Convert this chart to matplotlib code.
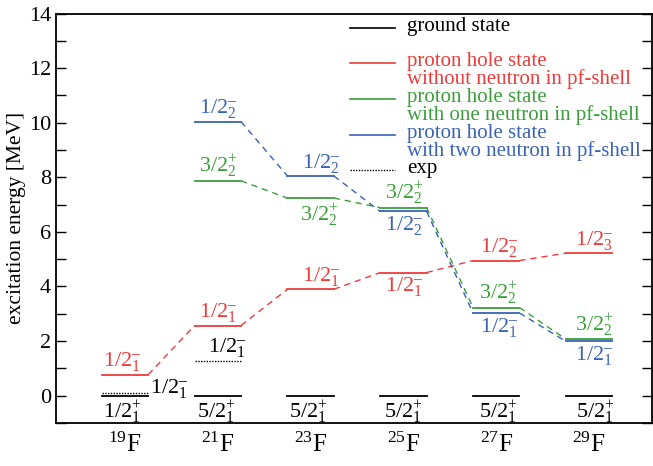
import numpy as np
import matplotlib
matplotlib.use("Agg")
import matplotlib.pyplot as plt
from matplotlib.ticker import MultipleLocator

plt.rcParams['font.family'] = ['Liberation Serif', 'DejaVu Serif']
plt.rcParams['mathtext.fontset'] = 'custom'
plt.rcParams['mathtext.rm'] = 'Liberation Serif'
plt.rcParams['mathtext.it'] = 'Liberation Serif:italic'
plt.rcParams['mathtext.bf'] = 'Liberation Serif:bold'
plt.rcParams['mathtext.default'] = 'regular'

# ---------------- data ----------------
mass_numbers = [19, 21, 23, 25, 27, 29]
nuclei = [r'$^{%d}$F' % a for a in mass_numbers]

ground_E = [0, 0, 0, 0, 0, 0]
ground_labels = ['1/2+1', '5/2+1', '5/2+1', '5/2+1', '5/2+1', '5/2+1']

red_E = [0.77, 2.57, 3.90, 4.51, 4.95, 5.22]
red_labels = ['1/2-1', '1/2-1', '1/2-1', '1/2-1', '1/2-2', '1/2-3']

green_E = [np.nan, 7.87, 7.24, 6.89, 3.23, 2.07]
green_labels = [None, '3/2+2', '3/2+2', '3/2+2', '3/2+2', '3/2+2']

blue_E = [np.nan, 10.04, 8.05, 6.75, 3.03, 1.99]
blue_labels = [None, '1/2-2', '1/2-2', '1/2-2', '1/2-1', '1/2-1']

exp_E = [0.11, 1.28, np.nan, np.nan, np.nan, np.nan]
exp_labels = ['1/2-1', '1/2-1', None, None, None, None]

legend_texts = ['ground state',
                'proton hole state\nwithout neutron in pf-shell',
                'proton hole state\nwith one neutron in pf-shell',
                'proton hole state\nwith two neutron in pf-shell',
                'exp']

# ---------------- styles / placement ----------------
RED = '#ee3b3b'
GREEN = '#3c9e3c'
BLUE = '#3a62b6'
HW = 0.25  # half width of a level
FS = 16
LFS = 15

# (side, x offset from level start) per label
ground_place = [('below', 0.01), ('below', 0.03), ('below', 0.02), ('below', 0.04), ('below', 0.06), ('below', 0.11)]
red_place = [('above', 0.01), ('above', 0.05), ('above', 0.16), ('below', 0.05), ('above', 0.08), ('above', 0.10)]
green_place = [None, ('above', 0.05), ('below', 0.14), ('above', 0.05), ('above', 0.06), ('above', 0.10)]
blue_place = [None, ('above', 0.05), ('above', 0.16), ('below', 0.05), ('below', 0.08), ('below', 0.10)]
exp_place = [('right', 0.0), ('above', 0.14)]

HYPH = '\\mathbf{\u2013}'


def fmt(lbl):
    spin, par, idx = lbl[:3], lbl[3], lbl[4:]
    sup = HYPH if par == '-' else '+'
    return '$%s^{%s}_{%s}$' % (spin, sup, idx)


fig = plt.figure(figsize=(6.53, 4.66), dpi=100)
ax = fig.add_axes([0.0858, 0.0923, 0.9127, 0.8787])

xs = np.arange(1, len(mass_numbers) + 1)


def draw_series(E, labels, place, color, ls='-', lw=1.3, connect=True):
    E = np.asarray(E, dtype=float)
    for i, (x, e) in enumerate(zip(xs, E)):
        if np.isnan(e):
            continue
        ax.plot([x - HW, x + HW], [e, e], color=color, ls=ls, lw=lw)
        if connect and i + 1 < len(E) and not np.isnan(E[i + 1]):
            ax.plot([x + HW, xs[i + 1] - HW], [e, E[i + 1]], color=color,
                    ls=(0, (4.5, 3.5)), lw=1.0)
        if labels[i] is None or place[i] is None:
            continue
        side, off = place[i]
        if side == 'above':
            ax.annotate(fmt(labels[i]), (x - HW + off, e), xytext=(0, 1.0),
                        textcoords='offset points', ha='left', va='bottom',
                        color=color, fontsize=FS)
        elif side == 'below':
            ax.annotate(fmt(labels[i]), (x - HW + off, e), xytext=(0, -2),
                        textcoords='offset points', ha='left', va='top',
                        color=color, fontsize=FS)
        else:
            ax.annotate(fmt(labels[i]), (x + HW, e), xytext=(1, 3),
                        textcoords='offset points', ha='left', va='center',
                        color=color, fontsize=FS)


draw_series(ground_E, ground_labels, ground_place, 'k', connect=False)
draw_series(red_E, red_labels, red_place, RED)
draw_series(green_E, green_labels, green_place, GREEN)
draw_series(blue_E, blue_labels, blue_place, BLUE)
draw_series(exp_E, exp_labels, exp_place + [None] * 4, 'k', ls=(0, (1, 1)), lw=1.0, connect=False)

# legend drawn manually
leg_x0, leg_x1, leg_tx = 0.493, 0.569, 0.589
leg_styles = [('k', '-'), (RED, '-'), (GREEN, '-'), (BLUE, '-'), ('k', (0, (1, 1)))]
leg_line_y = [0.965, 0.879, 0.791, 0.703, 0.618]
for txt, (c, ls), y in zip(legend_texts, leg_styles, leg_line_y):
    ax.plot([leg_x0, leg_x1], [y, y], transform=ax.transAxes, color=c, ls=ls,
            lw=1.0 if ls != '-' else 1.2)
    ax.text(leg_tx, y + 0.026, txt, transform=ax.transAxes, color=c,
            fontsize=LFS, ha='left', va='top', linespacing=0.82)

ax.set_xlim(0.2565, 6.679)
ax.set_ylim(-1, 14)
ax.set_xticks(xs)
ax.set_xticklabels(nuclei, fontsize=18)
ax.tick_params(axis='x', length=0, pad=7)
ax.yaxis.set_major_locator(MultipleLocator(2))
ax.yaxis.set_minor_locator(MultipleLocator(1))
ax.tick_params(axis='y', which='both', direction='in', length=7, width=1.0,
               right=True, labelsize=16)
ax.set_ylabel('excitation energy [MeV]', fontsize=15.5, labelpad=2)
for s in ax.spines.values():
    s.set_linewidth(1.3)

fig.savefig('out.png', dpi=100)
